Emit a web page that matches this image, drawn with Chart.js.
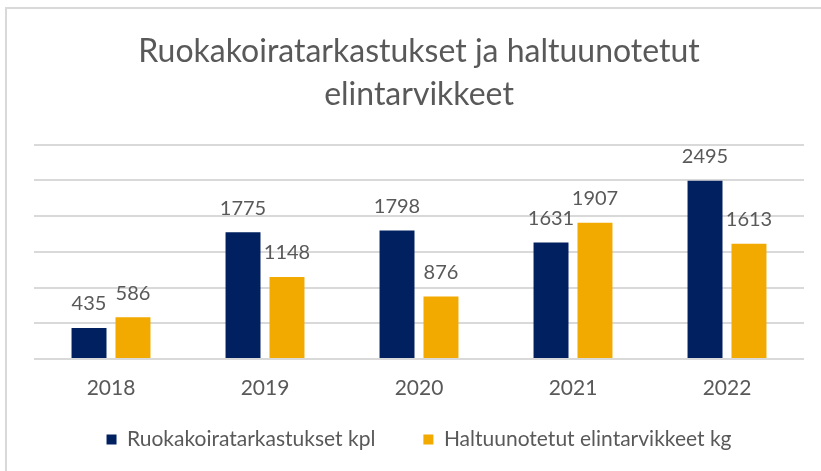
<!DOCTYPE html>
<html>
<head>
<meta charset="utf-8">
<script src="https://cdn.jsdelivr.net/npm/chart.js@4"></script>
<style>
  html, body { margin: 0; padding: 0; background: #fff; }
  #wrap { position: relative; width: 821px; height: 471px; }
  #frame {
    position: absolute; left: 5px; top: 7px; right: 0; bottom: 0;
    border-left: 2px solid #d9d9d9; border-top: 2px solid #d9d9d9;
    pointer-events: none;
  }
</style>
</head>
<body>
<div id="wrap">
  <canvas id="chart" width="821" height="471"></canvas>
  <div id="frame"></div>
</div>
<script>
const years = ["2018", "2019", "2020", "2021", "2022"];
const tarkastukset = [435, 1775, 1798, 1631, 2495];
const elintarvikkeet = [586, 1148, 876, 1907, 1613];
const seriesNames = ["Ruokakoiratarkastukset kpl", "Haltuunotetut elintarvikkeet kg"];
const chartTitle = ["Ruokakoiratarkastukset ja haltuunotetut", "elintarvikkeet"];

const textColor = "#595959";
const fontFamily = "Lato, 'Open Sans', sans-serif";

// draws the value above each bar
const valueLabels = {
  id: "valueLabels",
  afterDatasetsDraw(chart) {
    const ctx = chart.ctx;
    ctx.save();
    ctx.font = "20px " + fontFamily;
    ctx.fillStyle = textColor;
    ctx.textAlign = "center";
    ctx.textBaseline = "bottom";
    chart.data.datasets.forEach((ds, i) => {
      chart.getDatasetMeta(i).data.forEach((bar, j) => {
        ctx.fillText(ds.data[j], bar.x, bar.y - 14);
      });
    });
    ctx.restore();
  },
};

// wide gap between legend items, but keep the legend box short
const legendShift = 28;
const legendFit = {
  id: "legendFit",
  beforeLayout(chart) {
    const legend = chart.legend;
    if (!legend || legend._patched) return;
    const fit = legend.fit;
    const draw = legend.draw;
    legend.fit = function () {
      fit.call(this);
      this.height = 62;
    };
    legend.draw = function () {
      const top = this.top;
      const height = this.height;
      this.top = top - legendShift;
      this.height = height + legendShift;
      draw.call(this);
      this.top = top;
      this.height = height;
    };
    legend._patched = true;
  },
};

new Chart(document.getElementById("chart"), {
  type: "bar",
  data: {
    labels: years,
    datasets: [
      {
        label: seriesNames[0],
        data: tarkastukset,
        backgroundColor: "#002060",
        categoryPercentage: 0.571,
        barPercentage: 0.795,
      },
      {
        label: seriesNames[1],
        data: elintarvikkeet,
        backgroundColor: "#F2A900",
        categoryPercentage: 0.571,
        barPercentage: 0.795,
      },
    ],
  },
  options: {
    responsive: false,
    animation: false,
    layout: {
      padding: { left: 34, right: 17, top: 0, bottom: 0 },
    },
    plugins: {
      title: {
        display: true,
        text: chartTitle,
        color: textColor,
        font: { family: fontFamily, size: 32, weight: "normal", lineHeight: 1.34 },
        padding: { top: 30, bottom: 29 },
      },
      legend: {
        position: "bottom",
        labels: {
          color: textColor,
          font: { family: fontFamily, size: 21 },
          boxWidth: 10,
          boxHeight: 10,
          padding: 48,
        },
      },
      tooltip: { enabled: false },
    },
    scales: {
      x: {
        grid: { display: false },
        border: { display: false },
        ticks: {
          color: textColor,
          font: { family: fontFamily, size: 21 },
          padding: 8.4,
        },
      },
      y: {
        min: 0,
        max: 3000,
        ticks: { display: false, stepSize: 500 },
        border: { display: false },
        grid: { color: "#d9d9d9", lineWidth: 2, drawTicks: false },
      },
    },
  },
  plugins: [valueLabels, legendFit],
});
</script>
</body>
</html>
